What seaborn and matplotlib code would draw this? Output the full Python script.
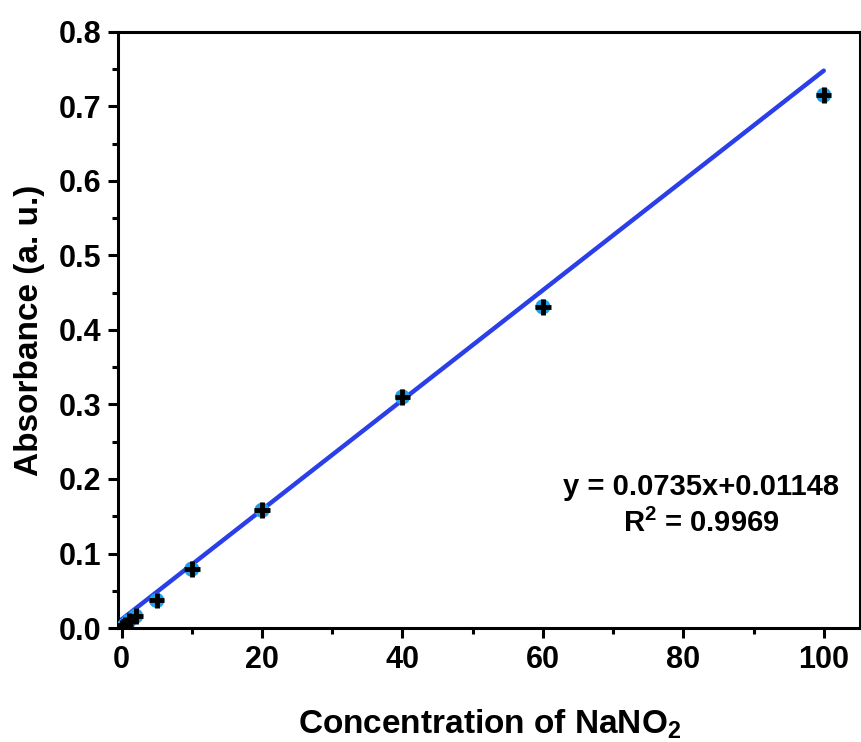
import numpy as np
import pandas as pd
import matplotlib
matplotlib.use("Agg")
import matplotlib.pyplot as plt
import seaborn as sns
from matplotlib.ticker import MultipleLocator, FormatStrFormatter

# calibration points
conc = [0, 0.5, 1, 2, 5, 10, 20, 40, 60, 100]
absorb = [0.0, 0.004, 0.009, 0.016, 0.037, 0.079, 0.158, 0.310, 0.431, 0.715]
conc_err = [1.1] * len(conc)
abs_err = [0.0105] * len(conc)

# fitted line end points (as drawn)
fit_x = [0, 100]
fit_y = [0.0115, 0.748]

eq_text = "y = 0.0735x+0.01148"
r2_text = r"R$^2$ = 0.9969"

sns.set_theme(style="ticks")
plt.rcParams.update({
    "font.family": ["Liberation Sans", "DejaVu Sans"],
    "font.weight": "bold",
    "axes.labelweight": "bold",
    "text.color": "black",
    "axes.labelcolor": "black",
    "xtick.color": "black",
    "ytick.color": "black",
    "mathtext.fontset": "custom",
    "mathtext.rm": "Liberation Sans:bold",
    "mathtext.default": "rm",
})

df = pd.DataFrame({"conc": conc, "absorb": absorb})
line_df = pd.DataFrame({"x": fit_x, "y": fit_y})

fig = plt.figure(figsize=(8.62, 7.42), dpi=100, facecolor="white")
ax = fig.add_axes([0.137, 0.1536, 0.861, 0.8034])

sns.lineplot(data=line_df, x="x", y="y", color="#2B3FE8", linewidth=3.2, ax=ax, zorder=2)
sns.scatterplot(data=df, x="conc", y="absorb", color="#1E9FE6", s=120,
                edgecolor="none", ax=ax, zorder=3)
ax.errorbar(conc, absorb, xerr=conc_err, yerr=abs_err, fmt="none",
            ecolor="black", elinewidth=3.5, capsize=0, zorder=4)

ax.set_xlim(-0.5, 105.2)
ax.set_ylim(0, 0.8)
ax.xaxis.set_major_locator(MultipleLocator(20))
ax.xaxis.set_minor_locator(MultipleLocator(10))
ax.yaxis.set_major_locator(MultipleLocator(0.1))
ax.yaxis.set_minor_locator(MultipleLocator(0.05))
ax.yaxis.set_major_formatter(FormatStrFormatter("%.1f"))

for s in ax.spines.values():
    s.set_linewidth(2.2)
    s.set_color("black")
    s.set_visible(True)
ax.tick_params(which="major", direction="out", length=7, width=2.2,
               labelsize=22, colors="black", pad=5)
ax.tick_params(which="minor", direction="out", length=4, width=2.2, colors="black")
for lab in ax.get_xticklabels() + ax.get_yticklabels():
    lab.set_fontweight("bold")

ax.set_xlabel(r"Concentration of NaNO$_2$", fontsize=24, fontweight="bold", labelpad=24)
ax.set_ylabel("Absorbance (a. u.)", fontsize=24, fontweight="bold", labelpad=10)

ax.text(82.5, 0.189, eq_text, ha="center", va="center", fontsize=21, fontweight="bold")
ax.text(82.5, 0.141, r2_text, ha="center", va="center", fontsize=21, fontweight="bold")

fig.savefig("out.png", dpi=100, facecolor="white")
